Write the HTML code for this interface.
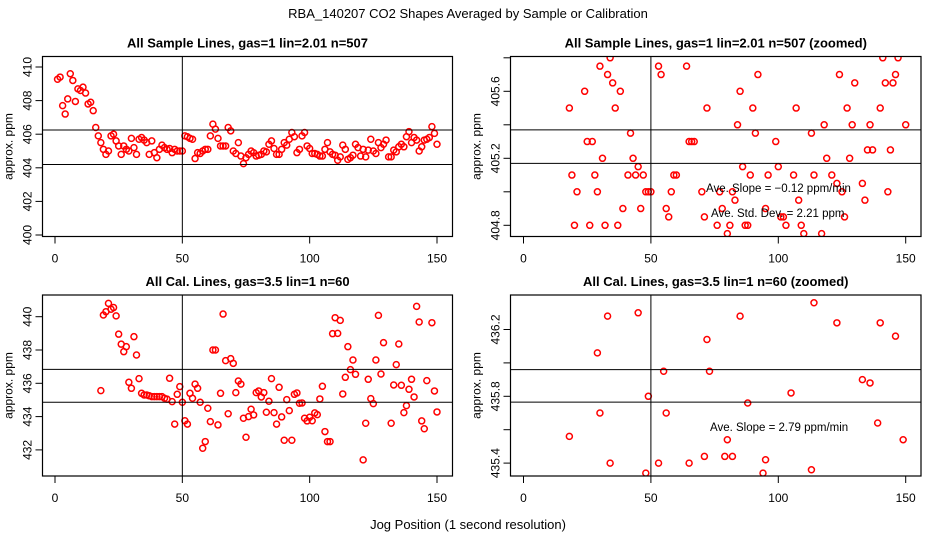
<!DOCTYPE html>
<html><head><meta charset="utf-8"><style>
html,body{margin:0;padding:0;background:#fff;width:936px;height:540px;overflow:hidden;}
svg{display:block;font-family:"Liberation Sans",Arial,sans-serif;overflow:hidden;}
</style></head><body>
<svg id="chart" width="936" height="540" viewBox="0 0 936 540" xmlns="http://www.w3.org/2000/svg">
<text x="468" y="18" font-size="13" text-anchor="middle">RBA_140207  CO2 Shapes Averaged by Sample or Calibration</text>
<text x="468" y="529" font-size="13" text-anchor="middle">Jog Position (1 second resolution)</text>
</svg>
<script>
const sampleX = [1,2,3,4,5,6,7,8,9,10,11,12,13,14,15,16,17,18,19,20,21,22,23,24,25,26,27,28,29,30,31,32,33,34,35,36,37,38,39,40,41,42,43,44,45,46,47,48,49,50,51,52,53,54,55,56,57,58,59,60,61,62,63,64,65,66,67,68,69,70,71,72,73,74,75,76,77,78,79,80,81,82,83,84,85,86,87,88,89,90,91,92,93,94,95,96,97,98,99,100,101,102,103,104,105,106,107,108,109,110,111,112,113,114,115,116,117,118,119,120,121,122,123,124,125,126,127,128,129,130,131,132,133,134,135,136,137,138,139,140,141,142,143,144,145,146,147,148,149,150];
const sampleY = [409.27,409.4,407.7,407.2,408.1,409.6,409.2,407.95,408.7,408.6,408.8,408.45,407.8,407.9,407.4,406.4,405.9,405.5,405.1,404.8,405.0,405.9,406.0,405.6,405.3,404.8,405.3,405.1,405.0,405.75,405.2,404.8,405.7,405.8,405.65,405.5,404.8,405.6,404.9,404.6,405.1,405.35,405.2,405.1,405.15,404.9,405.1,405.0,405.0,405.0,405.9,405.85,405.75,405.7,404.55,404.9,404.85,405.0,405.1,405.1,405.9,406.6,406.3,405.75,405.3,405.3,405.3,406.4,406.2,405.0,404.85,405.5,404.7,404.25,404.6,404.8,405.0,404.9,404.7,404.75,404.8,405.0,404.95,405.4,405.6,405.15,404.8,404.8,405.1,405.5,405.35,405.7,406.1,405.85,404.9,405.1,405.9,406.1,405.3,405.15,404.85,404.85,404.8,404.7,404.7,405.1,405.5,404.95,404.8,404.75,404.45,404.65,405.35,405.1,404.5,404.6,404.75,405.4,405.2,404.7,405.1,404.65,405.05,405.7,405.0,404.85,405.5,405.2,405.4,405.65,404.65,404.65,405.05,404.95,405.25,405.4,405.25,405.85,406.15,405.5,405.8,405.65,405.0,405.25,405.65,405.7,405.8,406.45,406.05,405.4];
const calX = [18,19,20,21,22,23,24,25,26,27,28,29,30,31,32,33,34,35,36,37,38,39,40,41,42,43,44,45,46,47,48,49,50,51,52,53,54,55,56,57,58,59,60,61,62,63,64,65,66,67,68,69,70,71,72,73,74,75,76,77,78,79,80,81,82,83,84,85,86,87,88,89,90,91,92,93,94,95,96,97,98,99,100,101,102,103,104,105,106,107,108,109,110,111,112,113,114,115,116,117,118,121,122,123,124,125,126,127,128,129,132,133,134,135,136,137,138,139,140,141,142,143,144,145,146,148,149,150];
const calY = [435.56,440.1,440.3,440.8,440.45,440.55,440.05,438.95,438.35,437.9,438.2,436.06,435.7,438.8,437.7,436.28,435.4,435.3,435.3,435.25,435.2,435.2,435.2,435.2,435.2,435.1,435.05,436.3,434.9,433.55,435.34,435.8,434.86,433.75,433.55,435.4,435.1,435.95,435.7,434.86,432.1,432.5,434.5,433.7,438.0,438.0,433.5,435.4,440.16,437.36,434.17,437.48,437.2,435.44,436.14,435.95,433.9,432.76,434.0,434.44,434.1,435.44,435.54,435.18,435.44,434.26,434.92,436.28,434.24,433.55,435.76,433.98,432.58,435.02,434.36,432.58,435.34,435.42,434.8,434.82,433.9,433.74,433.96,433.75,434.22,434.12,435.06,435.82,433.1,432.5,432.5,438.98,439.94,439.0,439.78,435.36,436.36,438.2,436.82,437.4,436.54,431.4,433.6,436.24,435.08,434.78,437.4,440.08,436.56,438.44,433.6,435.9,437.12,438.36,435.88,434.24,434.66,435.64,436.24,435.18,440.62,439.68,433.74,433.27,436.16,439.64,435.54,434.28];
const xTickLabels = ["0","50","100","150"];
const xTickValues = [0,50,100,150];
const p1YTicks = [400,402,404,406,408,410];
const p2YTicks = [404.8,405.0,405.2,405.4,405.6,405.8];
const p2YLabels = ["404.8","","405.2","","405.6",""];
const p3YTicks = [432,434,436,438,440];
const p4YTicks = [435.4,435.6,435.8,436.0,436.2];
const p4YLabels = ["435.4","","435.8","","436.2"];
const p1HLines = [406.25,404.2];
const p2HLines = [405.37,405.17];
const p3HLines = [436.84,434.86];
const p4HLines = [435.96,435.765];
const vLineX = 50;

const NS="http://www.w3.org/2000/svg";
const svg=document.getElementById('chart');
function mk(tag,attrs,parent){const e=document.createElementNS(NS,tag);for(const k in attrs)e.setAttribute(k,attrs[k]);(parent||svg).appendChild(e);return e;}

const panels=[
 {id:'p1',title:'All Sample Lines, gas=1 lin=2.01 n=507',L:42.5,R:452.5,T:56.5,B:236.5,x0:55,x1:437,yv:400,yp:235,ys:16.8,ticks:p1YTicks,labels:p1YTicks.map(String),h:p1HLines,xs:sampleX,vs:sampleY,notes:[]},
 {id:'p2',title:'All Sample Lines, gas=1 lin=2.01 n=507 (zoomed)',L:510.5,R:921,T:56.5,B:236.5,x0:523.5,x1:905.7,yv:405.2,yp:158.3,ys:167.5,ticks:p2YTicks,labels:p2YLabels,h:p2HLines,xs:sampleX,vs:sampleY,notes:[['Ave. Slope =  \u22120.12  ppm/min',706,192],['Ave. Std. Dev. =  2.21  ppm',711,217]]},
 {id:'p3',title:'All Cal. Lines, gas=3.5 lin=1 n=60',L:42.5,R:452.5,T:295,B:476,x0:55,x1:437,yv:436,yp:383.3,ys:16.65,ticks:p3YTicks,labels:p3YTicks.map(String),h:p3HLines,xs:calX,vs:calY,notes:[]},
 {id:'p4',title:'All Cal. Lines, gas=3.5 lin=1 n=60 (zoomed)',L:510.5,R:921,T:295,B:476,x0:523.5,x1:905.7,yv:435.8,yp:396.3,ys:167,ticks:p4YTicks,labels:p4YLabels,h:p4HLines,xs:calX,vs:calY,notes:[['Ave. Slope =  2.79  ppm/min',710,431]]}
];

panels.forEach(p=>{
 const xs=v=>p.x0+(p.x1-p.x0)*v/150;
 const ys=v=>p.yp-(v-p.yv)*p.ys;
 const g=mk('g',{});
 
 
 const t=mk('text',{x:(p.L+p.R)/2,y:p.T-9,'font-size':13,'font-weight':'bold','text-anchor':'middle'},g);
 t.textContent=p.title;
 
 
 const yl=mk('text',{x:0,y:0,'font-size':12,'text-anchor':'middle',transform:`translate(${p.L-30},${(p.T+p.B)/2}) rotate(-90)`},g);
 yl.textContent='approx. ppm';
 
 
 const cp=mk('clipPath',{id:'clip-'+p.id},g);
 mk('rect',{x:p.L,y:p.T,width:p.R-p.L,height:p.B-p.T},cp);
 const pts=mk('g',{'clip-path':`url(#clip-${p.id})`},g);
 
 
 p.xs.forEach((xv,i)=>{
  const c=mk('circle',{cx:xs(xv),cy:ys(p.vs[i]),r:3,fill:'none',stroke:'#ff0000','stroke-width':1.5},pts);
  
  
 });
 const ln=mk('g',{'clip-path':`url(#clip-${p.id})`,stroke:'#000','stroke-width':1},g);
 p.h.forEach(hv=>{
  const l=mk('line',{x1:p.L,x2:p.R,y1:ys(hv),y2:ys(hv)},ln);
  
  
 });
 const vl=mk('line',{x1:xs(vLineX),x2:xs(vLineX),y1:p.T,y2:p.B},ln);
 
 
 const fr=mk('rect',{x:p.L,y:p.T,width:p.R-p.L,height:p.B-p.T,fill:'none',stroke:'#000','stroke-width':1.2},g);
 
 
 xTickValues.forEach((xv,i)=>{
  mk('line',{x1:xs(xv),x2:xs(xv),y1:p.B,y2:p.B+7,stroke:'#000'},g);
  const tl=mk('text',{x:xs(xv),y:p.B+26,'font-size':12,'text-anchor':'middle'},g);
  tl.textContent=xTickLabels[i];
  
  
 });
 p.ticks.forEach((yv,i)=>{
  const y=ys(yv);
  mk('line',{x1:p.L-7,x2:p.L,y1:y,y2:y,stroke:'#000'},g);
  if(p.labels[i]){
   const tl=mk('text',{x:0,y:0,'font-size':12,'text-anchor':'middle',transform:`translate(${p.L-11},${y}) rotate(-90)`},g);
   tl.textContent=p.labels[i];
   
   
  }
 });
 p.notes.forEach(n=>{
  const tx=mk('text',{x:n[1],y:n[2],'font-size':11.5},g);
  tx.textContent=n[0];
  
  
 });
});
</script>
</body></html>
